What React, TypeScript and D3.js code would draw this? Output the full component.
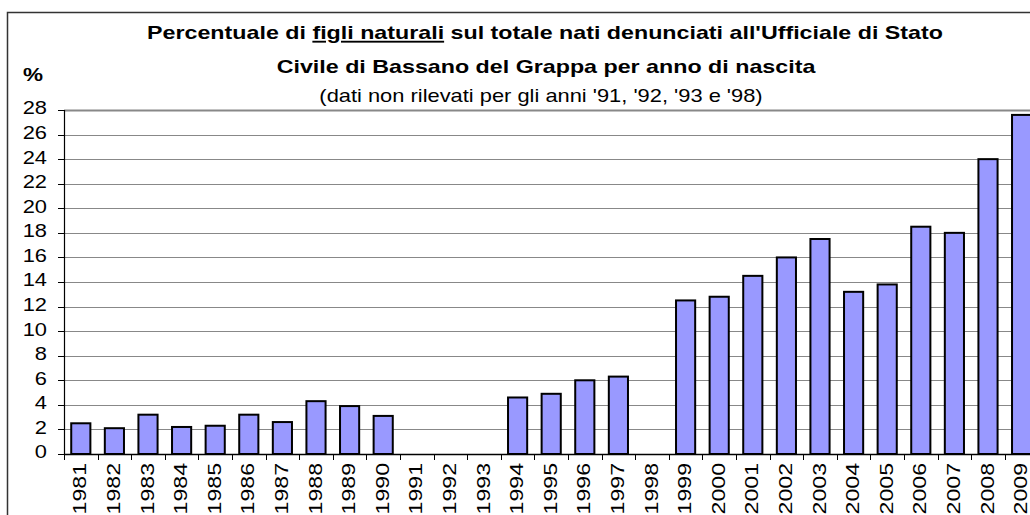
import { useEffect, useRef } from "react";
import * as d3 from "d3";

const years = [
  "1981", "1982", "1983", "1984", "1985", "1986", "1987", "1988", "1989", "1990",
  "1991", "1992", "1993", "1994", "1995", "1996", "1997", "1998", "1999", "2000",
  "2001", "2002", "2003", "2004", "2005", "2006", "2007", "2008", "2009",
];
// null = dati non rilevati
const percentuali: (number | null)[] = [
  2.5, 2.1, 3.2, 2.2, 2.3, 3.2, 2.6, 4.3, 3.9, 3.1,
  null, null, null, 4.6, 4.9, 6.0, 6.3, null, 12.5, 12.8,
  14.5, 16.0, 17.5, 13.2, 13.8, 18.5, 18.0, 24.0, 27.6,
];
const yTicks = [0, 2, 4, 6, 8, 10, 12, 14, 16, 18, 20, 22, 24, 26, 28];

const FONT = "Liberation Sans, Arial, sans-serif";
const WIDE = 1.25; // glyphs in the original are wider than Liberation Sans

export default function App() {
  const svgRef = useRef<SVGSVGElement>(null);

  useEffect(() => {
    const svg = d3.select(svgRef.current);
    svg.selectAll("*").remove();

    const left = 64;
    const top = 110;
    const bottom = 454;
    const step = 33.6;

    const x = d3.scaleBand()
      .domain(years)
      .range([left, left + step * years.length])
      .paddingInner(0.43)
      .paddingOuter(0.215);

    const y = d3.scaleLinear().domain([0, 28]).range([bottom, top]);

    // outer frame
    svg.append("rect")
      .attr("x", 7.5).attr("y", 12.5)
      .attr("width", 1100).attr("height", 600)
      .attr("fill", "white")
      .attr("stroke", "#333")
      .attr("stroke-width", 1.5);

    // gridlines
    svg.append("g")
      .selectAll("line")
      .data(yTicks.filter(d => d > 0))
      .join("line")
      .attr("x1", left).attr("x2", 1100)
      .attr("y1", d => Math.round(y(d)) + 0.5)
      .attr("y2", d => Math.round(y(d)) + 0.5)
      .attr("stroke", "#888")
      .attr("stroke-width", d => d === 28 ? 2 : 1);

    // bars
    svg.append("g")
      .selectAll("rect")
      .data(years.map((yr, i) => ({ yr, v: percentuali[i] })).filter(d => d.v !== null))
      .join("rect")
      .attr("x", d => x(d.yr)!)
      .attr("y", d => y(d.v as number))
      .attr("width", x.bandwidth())
      .attr("height", d => bottom - y(d.v as number))
      .attr("fill", "#9999ff")
      .attr("stroke", "#000")
      .attr("stroke-width", 2);

    // y axis
    const gy = svg.append("g");
    gy.append("line")
      .attr("x1", left + 0.5).attr("x2", left + 0.5)
      .attr("y1", top).attr("y2", bottom)
      .attr("stroke", "#000").attr("stroke-width", 1.2);
    gy.selectAll("line.tk")
      .data(yTicks)
      .join("line")
      .attr("class", "tk")
      .attr("x1", left - 6).attr("x2", left)
      .attr("y1", d => Math.round(y(d)) + 0.5)
      .attr("y2", d => Math.round(y(d)) + 0.5)
      .attr("stroke", "#000");
    gy.selectAll("text")
      .data(yTicks)
      .join("text")
      .attr("transform", d => `translate(47,${y(d)}) scale(${WIDE},1)`)
      .attr("dy", "0.25em")
      .attr("text-anchor", "end")
      .attr("font-family", FONT)
      .attr("font-size", 17.5)
      .text(d => d);

    // x axis with ticks between categories
    const gx = svg.append("g");
    gx.append("line")
      .attr("x1", left).attr("x2", 1100)
      .attr("y1", bottom + 0.5).attr("y2", bottom + 0.5)
      .attr("stroke", "#000").attr("stroke-width", 1.5);
    gx.selectAll("line.tk")
      .data(d3.range(years.length + 1))
      .join("line")
      .attr("class", "tk")
      .attr("x1", i => Math.round(left + i * x.step()) + 0.5)
      .attr("x2", i => Math.round(left + i * x.step()) + 0.5)
      .attr("y1", bottom).attr("y2", bottom + 6)
      .attr("stroke", "#000");
    gx.selectAll("text")
      .data(years)
      .join("text")
      .attr("transform", d =>
        `translate(${x(d)! + x.bandwidth() / 2 + 5.5},463) rotate(-90) scale(${WIDE},1)`)
      .attr("text-anchor", "end")
      .attr("font-family", FONT)
      .attr("font-size", 18.5)
      .text(d => d);

    // titles
    const title = svg.append("g")
      .attr("font-family", FONT)
      .attr("text-anchor", "middle");
    const t1 = title.append("text")
      .attr("transform", `translate(545,39) scale(${WIDE},1)`)
      .attr("font-size", 18.6).attr("font-weight", "bold");
    t1.append("tspan").text("Percentuale di ");
    t1.append("tspan").attr("text-decoration", "underline").text("figli naturali");
    t1.append("tspan").text(" sul totale nati denunciati all'Ufficiale di Stato");
    title.append("text")
      .attr("transform", `translate(546,73) scale(${WIDE},1)`)
      .attr("font-size", 18.6).attr("font-weight", "bold")
      .text("Civile di Bassano del Grappa per anno di nascita");
    title.append("text")
      .attr("transform", `translate(541,102) scale(${WIDE},1)`)
      .attr("font-size", 17.5)
      .text("(dati non rilevati per gli anni '91, '92, '93 e '98)");

    svg.append("text")
      .attr("transform", `translate(23,81) scale(${WIDE},1)`)
      .attr("font-family", FONT)
      .attr("font-size", 18).attr("font-weight", "bold")
      .text("%");
  }, []);

  return (
    <svg
      ref={svgRef}
      width={1030}
      height={515}
      style={{ position: "absolute", left: 0, top: 0, background: "white" }}
    />
  );
}
